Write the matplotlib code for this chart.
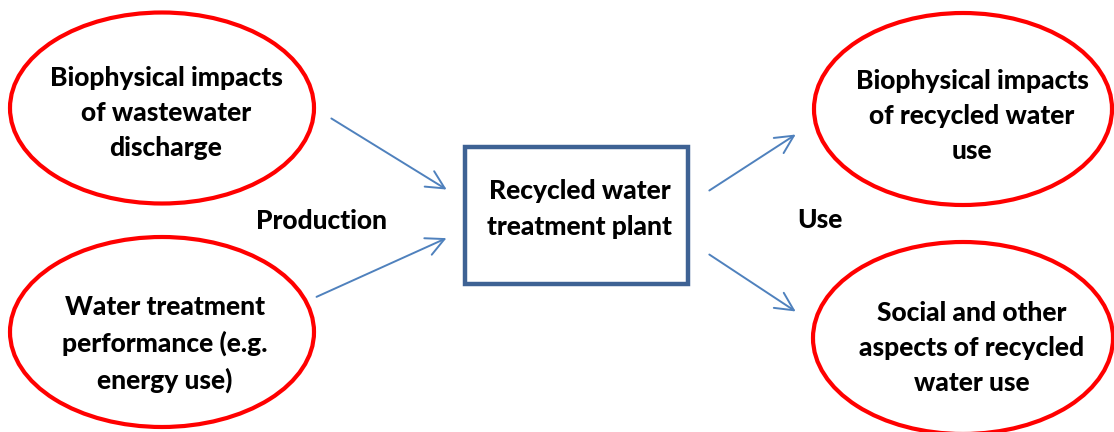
import matplotlib
matplotlib.use("Agg")
import matplotlib.pyplot as plt
from matplotlib.patches import Ellipse, Rectangle, FancyArrowPatch

# ==========================
# Diagram content
# ==========================
ellipse_labels = [
    "Biophysical impacts\nof wastewater\ndischarge",
    "Water treatment\nperformance (e.g.\nenergy use)",
    "Biophysical impacts\nof recycled water\nuse",
    "Social and other\naspects of recycled\nwater use",
]
box_label = "Recycled water\ntreatment plant"
side_labels = ["Production", "Use"]

# layout in pixels (x, y from top-left)
ellipse_centers = [(162, 108), (162, 332), (963, 109), (963, 338)]
ellipse_sizes = [(304, 191), (304, 190), (298, 192), (300, 192)]
text_centers = [(166, 113), (165, 344), (972, 116), (972, 348)]
box_xy = (465, 147)
box_wh = (223, 137)
side_pos = [(322, 221), (820, 220)]
arrows = [((329, 117), (449, 191)),
          ((314, 298), (449, 237)),
          ((707, 192), (798, 133)),
          ((707, 253), (798, 313))]

red = "#FF0000"
blue_box = "#3E6294"
blue_arrow = "#4F81BD"
font = "Lato"
fsize = 19
weight = "black"

fig = plt.figure(figsize=(11.14, 4.32), dpi=100)
ax = fig.add_axes([0, 0, 1, 1])
ax.set_xlim(0, 1114)
ax.set_ylim(432, 0)
ax.axis("off")

for (cx, cy), (w, h) in zip(ellipse_centers, ellipse_sizes):
    ax.add_patch(Ellipse((cx, cy), w, h, facecolor="white", edgecolor=red, lw=3))

for (tx, ty), lab in zip(text_centers, ellipse_labels):
    ax.text(tx, ty, lab, ha="center", va="center", fontsize=fsize, fontweight=weight,
            family=font, linespacing=1.56)

ax.add_patch(Rectangle(box_xy, box_wh[0], box_wh[1], facecolor="white",
                       edgecolor=blue_box, lw=3.2))
ax.text(box_xy[0] + box_wh[0] / 2 + 3, 209, box_label, ha="center", va="center",
        fontsize=fsize, fontweight=weight, family=font, linespacing=1.56)

for (sx, sy), lab in zip(side_pos, side_labels):
    ax.text(sx, sy, lab, ha="center", va="center", fontsize=fsize, fontweight=weight,
            family=font)

for start, end in arrows:
    ax.add_patch(FancyArrowPatch(start, end, arrowstyle="->,head_length=10,head_width=5",
                                 color=blue_arrow, lw=1.4, mutation_scale=1.3))

fig.savefig("out.png", dpi=100)
